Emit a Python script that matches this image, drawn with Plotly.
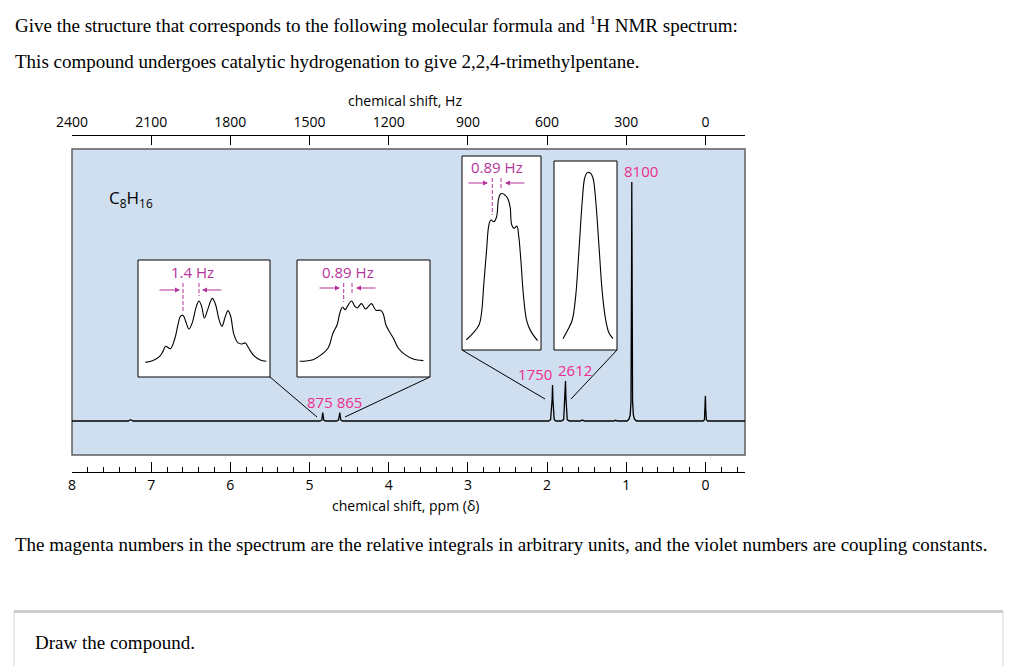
import plotly.graph_objects as go

# ---------------- data ----------------
ppm_ticks = [8, 7, 6, 5, 4, 3, 2, 1, 0]
hz_ticks = [2400, 2100, 1800, 1500, 1200, 900, 600, 300, 0]

spectrum_ppm = [8.0, 7.29, 7.265, 7.255, 7.23,
                4.87, 4.845, 4.837, 4.833, 4.829, 4.82, 4.80,
                4.66, 4.635, 4.622, 4.618, 4.614, 4.605, 4.58,
                1.98, 1.955, 1.936, 1.931, 1.926, 1.91, 1.89,
                1.82, 1.79, 1.772, 1.767, 1.762, 1.745, 1.72,
                1.58, 1.555, 1.53,
                1.16, 1.135, 1.11,
                0.99, 0.965, 0.95, 0.94, 0.935, 0.932, 0.93, 0.928, 0.925, 0.92, 0.91, 0.895, 0.87,
                0.75, 0.725, 0.70,
                0.03, 0.012, 0.004, 0.0, -0.004, -0.012, -0.03,
                -0.5]
spectrum_int = [0, 0, 0.5, 0.5, 0,
                0, 0.4, 2.5, 3.5, 2.5, 0.4, 0,
                0, 0.4, 2.5, 3.5, 2.5, 0.4, 0,
                0, 0.6, 9.0, 15.1, 9.0, 0.6, 0,
                0, 0.6, 10.0, 16.7, 10.0, 0.6, 0,
                0, 0.4, 0,
                0, 0.3, 0,
                0, 0.8, 2.5, 8, 30, 70, 100, 70, 30, 8, 2.5, 0.8, 0,
                0, 0.3, 0,
                0, 0.5, 5.0, 10.5, 5.0, 0.5, 0,
                0]

integral_values = ["875 865", "1750", "2612", "8100"]
coupling_labels = ["1.4 Hz", "0.89 Hz", "0.89 Hz"]
formula = "C<sub>8</sub>H<sub>16</sub>"

# inset multiplets (relative frequency, relative intensity)
inset1_x = [0.056, 0.114, 0.164, 0.189, 0.210, 0.245, 0.278, 0.303, 0.321, 0.341, 0.361, 0.386, 0.412,
            0.442, 0.462, 0.482, 0.503, 0.528, 0.563, 0.588, 0.614, 0.636, 0.662, 0.682, 0.702, 0.727,
            0.758, 0.783, 0.813, 0.838, 0.871, 0.922, 0.972]
inset1_y = [0.125, 0.142, 0.177, 0.219, 0.262, 0.242, 0.325, 0.447, 0.519, 0.527, 0.476, 0.410, 0.467,
            0.604, 0.650, 0.604, 0.504, 0.576, 0.672, 0.618, 0.490, 0.433, 0.519, 0.567, 0.519, 0.362,
            0.291, 0.282, 0.291, 0.248, 0.191, 0.148, 0.134]

inset2_x = [0.020, 0.121, 0.183, 0.234, 0.271, 0.302, 0.322, 0.342, 0.362, 0.379, 0.410, 0.435, 0.452,
            0.485, 0.515, 0.560, 0.593, 0.628, 0.648, 0.668, 0.698, 0.724, 0.761, 0.812, 0.874, 0.950]
inset2_y = [0.134, 0.148, 0.191, 0.248, 0.376, 0.447, 0.547, 0.598, 0.575, 0.604, 0.650, 0.604, 0.590,
            0.627, 0.581, 0.627, 0.570, 0.570, 0.541, 0.447, 0.382, 0.333, 0.248, 0.191, 0.154, 0.140]

inset3_x = [0.055, 0.140, 0.217, 0.247, 0.277, 0.311, 0.340, 0.366, 0.404, 0.438, 0.460, 0.481, 0.511,
            0.545, 0.579, 0.609, 0.630, 0.660, 0.694, 0.719, 0.745, 0.779, 0.821, 0.872, 0.957]
inset3_y = [0.053, 0.087, 0.130, 0.190, 0.344, 0.515, 0.644, 0.670, 0.661, 0.687, 0.772, 0.801, 0.807,
            0.798, 0.781, 0.738, 0.644, 0.627, 0.639, 0.584, 0.464, 0.276, 0.147, 0.096, 0.048]

inset4_x = [0.143, 0.222, 0.291, 0.344, 0.397, 0.450, 0.487, 0.524, 0.577, 0.619, 0.661, 0.714, 0.767,
            0.820, 0.873, 0.937]
inset4_y = [0.060, 0.108, 0.160, 0.284, 0.531, 0.795, 0.910, 0.937, 0.937, 0.910, 0.795, 0.549, 0.302,
            0.160, 0.090, 0.060]

# ---------------- layout helpers (page pixels -> paper) ----------------
W, H = 1024, 666
PL, PR, PT, PB = 72, 745, 136, 472


def fx(px):
    return (px - PL) / (PR - PL)


def fy(py):
    return (PB - py) / (PB - PT)


BLUE = "#d0dff0"
MAG = "#ec2d8f"
VIO = "#b5339a"
SANS = "Open Sans"
SERIF = "Liberation Serif"

fig = go.Figure()

fig.add_trace(go.Scatter(x=spectrum_ppm, y=spectrum_int, mode="lines",
                         line=dict(color="black", width=1.3), hoverinfo="skip",
                         xaxis="x", yaxis="y", showlegend=False))
fig.add_trace(go.Scatter(x=hz_ticks, y=[0] * len(hz_ticks), mode="markers",
                         marker=dict(opacity=0), hoverinfo="skip",
                         xaxis="x2", yaxis="y", showlegend=False))

insets = [(inset1_x, inset1_y, (138, 270, 260, 377)),
          (inset2_x, inset2_y, (297, 430, 260, 377)),
          (inset3_x, inset3_y, (462, 541, 156, 350)),
          (inset4_x, inset4_y, (554, 617, 161, 350))]

layout_axes = {}
shapes = [dict(type="rect", xref="paper", yref="paper", x0=0, x1=1, y0=fy(455), y1=fy(149),
               fillcolor=BLUE, line=dict(color="#5f5f5f", width=1.5), layer="below")]

for i, (xs, ys, box) in enumerate(insets):
    n = i + 3
    x0, x1, y0, y1 = box
    fig.add_trace(go.Scatter(x=xs, y=ys, mode="lines", line=dict(color="black", width=1.1, shape="spline"),
                             hoverinfo="skip", xaxis=f"x{n}", yaxis=f"y{n}", showlegend=False))
    layout_axes[f"xaxis{n}"] = dict(domain=[fx(x0), fx(x1)], range=[0, 1], visible=False,
                                    anchor=f"y{n}", fixedrange=True)
    layout_axes[f"yaxis{n}"] = dict(domain=[fy(y1), fy(y0)], range=[0, 1], visible=False,
                                    anchor=f"x{n}", fixedrange=True)
    shapes.append(dict(type="rect", xref=f"x{n} domain", yref=f"y{n} domain", x0=0, x1=1, y0=0, y1=1,
                       fillcolor="white", line=dict(color="black", width=1), layer="below"))

# connector lines
for (ax0, ay0, ax1, ay1) in [(270, 377, 317, 417), (430, 377, 345, 417),
                             (462, 350, 545, 399), (617, 350, 571, 399)]:
    shapes.append(dict(type="line", xref="paper", yref="paper", x0=fx(ax0), y0=fy(ay0),
                       x1=fx(ax1), y1=fy(ay1), line=dict(color="black", width=1)))

# violet dashed markers
for (lx, ly0, ly1) in [(183, 283, 311), (199, 283, 296), (343.7, 283, 302), (352, 283, 295),
                       (492.3, 178, 215), (501, 178, 188)]:
    shapes.append(dict(type="line", xref="paper", yref="paper", x0=fx(lx), x1=fx(lx),
                       y0=fy(ly0), y1=fy(ly1), line=dict(color=VIO, width=1, dash="4px,2px")))

# question box
shapes.append(dict(type="rect", xref="paper", yref="paper", x0=fx(14), x1=fx(1003), y0=fy(700), y1=fy(611),
                   line=dict(color="#d6d6d6", width=1), fillcolor="rgba(0,0,0,0)"))
shapes.append(dict(type="line", xref="paper", yref="paper", x0=fx(14), x1=fx(1003), y0=fy(611.5), y1=fy(611.5),
                   line=dict(color="#cccccc", width=3)))

annotations = []


def txt(text, x, y, size, color="black", family=SANS, xanchor="center"):
    annotations.append(dict(text=text, x=fx(x), y=fy(y), xref="paper", yref="paper", showarrow=False,
                            xanchor=xanchor, yanchor="middle", font=dict(size=size, color=color, family=family)))


def arrow(xh, yh, dx):
    annotations.append(dict(text="", x=fx(xh), y=fy(yh), xref="paper", yref="paper", showarrow=True,
                            ax=-dx, ay=0, arrowhead=2, arrowsize=1, arrowwidth=1, arrowcolor=VIO))


# page texts
txt("Give the structure that corresponds to the following molecular formula and <sup>1</sup>H NMR spectrum:",
    13, 24, 19, family=SERIF, xanchor="left")
txt("This compound undergoes catalytic hydrogenation to give 2,2,4-trimethylpentane.",
    13, 62, 19, family=SERIF, xanchor="left")
txt("The magenta numbers in the spectrum are the relative integrals in arbitrary units, and the violet numbers are coupling constants.",
    13, 544, 19, family=SERIF, xanchor="left")
txt("Draw the compound.", 33, 642, 19, family=SERIF, xanchor="left")

# axis titles
txt("chemical shift, Hz", 405, 101, 14)
txt("chemical shift, ppm (δ)", 405, 505, 14)

# formula
txt(formula, 131, 198, 17)

# integrals
txt(integral_values[0], 334, 402, 15, MAG)
txt(integral_values[1], 535, 374, 15, MAG)
txt(integral_values[2], 575, 370, 15, MAG)
txt(integral_values[3], 641, 171, 15, MAG)

# coupling constants
txt(coupling_labels[0], 192, 272, 15, VIO)
txt(coupling_labels[1], 348, 272, 15, VIO)
txt(coupling_labels[2], 497, 167, 15, VIO)

arrow(180, 290, 22)
arrow(202, 290, -21)
arrow(340, 288, 22)
arrow(356, 288, -21)
arrow(488, 183, 21)
arrow(505, 183, -21)

fig.update_layout(
    width=W, height=H,
    margin=dict(l=PL, r=W - PR, t=PT, b=H - PB, pad=0),
    paper_bgcolor="white", plot_bgcolor="rgba(0,0,0,0)",
    font=dict(family=SANS, size=14, color="black"),
    showlegend=False,
    xaxis=dict(domain=[0, 1], range=[8, -0.5], tickvals=ppm_ticks, ticktext=[str(t) for t in ppm_ticks],
               ticks="inside", ticklen=10, tickwidth=1, tickcolor="black",
               showline=True, linecolor="black", linewidth=1, showgrid=False, zeroline=False,
               tickfont=dict(size=14, family=SANS), anchor="y", fixedrange=True,
               minor=dict(dtick=0.2, tick0=0, ticks="inside", ticklen=5, tickcolor="black", showgrid=False)),
    xaxis2=dict(overlaying="x", side="top", anchor="y", range=[2400, -150], tickvals=hz_ticks,
                ticktext=[str(t) for t in hz_ticks], ticks="inside", ticklen=9, tickwidth=1, tickcolor="black",
                showline=True, linecolor="black", linewidth=1, showgrid=False, zeroline=False,
                tickfont=dict(size=14, family=SANS), fixedrange=True, ticklabelstandoff=2),
    yaxis=dict(domain=[0, 1], range=[-21.34, 119.25], visible=False, fixedrange=True),
    shapes=shapes,
    annotations=annotations,
    **layout_axes,
)

fig.write_html("out.html", config={"displayModeBar": False},
               post_script="document.body.style.margin='0';document.body.style.overflow='hidden';")
